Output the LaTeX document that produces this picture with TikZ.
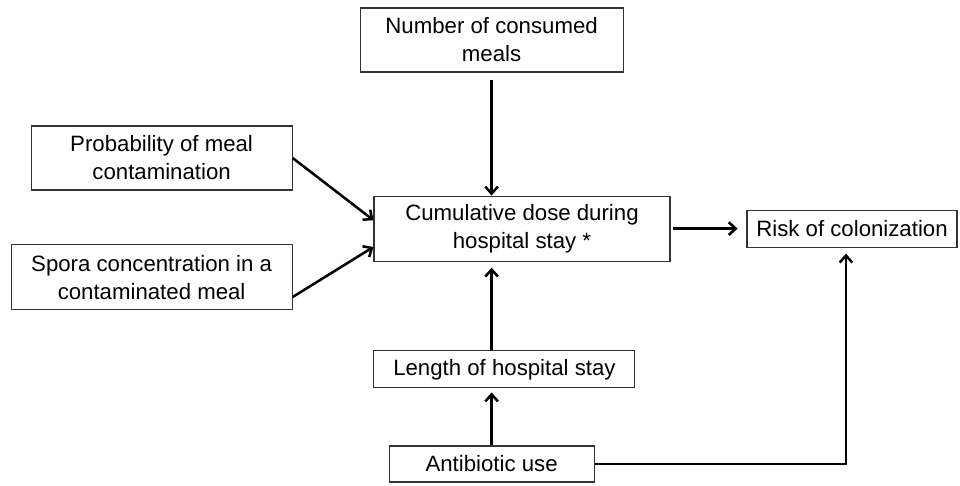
\documentclass[tikz,border=0pt]{standalone}
\usepackage{fontspec}
\setmainfont{Liberation Sans}
\usetikzlibrary{arrows.meta}

\tikzset{
  factor/.style={draw=black!80,line width=0.8pt,rectangle,align=center,inner sep=0pt,
    font=\fontsize{15.8}{20}\selectfont},
  link/.style={line width=1.8pt,-{Straight Barb[length=5pt,width=9pt,line width=1.8pt]}}
}

\begin{document}
\begin{tikzpicture}
  %\draw[step=1cm,gray,very thin] (0,0) grid (24,12);
  \useasboundingbox (0,0) rectangle (24,12.125);

  \node[factor,minimum width=6.575cm,minimum height=1.6cm] (meals) at (12.29,11.125) {Number of consumed\\meals};
  \node[factor,minimum width=6.525cm,minimum height=1.6cm] (prob) at (4.04,8.175) {Probability of meal\\contamination};
  \node[factor,minimum width=7.025cm,minimum height=1.625cm] (spora) at (3.79,5.19) {Spora concentration in a\\contaminated meal};
  \node[factor,minimum width=7.4cm,minimum height=1.625cm] (dose) at (13.05,6.41) {Cumulative dose during\\hospital stay *};
  \node[factor,minimum width=5.25cm,minimum height=0.925cm] (risk) at (21.3,6.41) {Risk of colonization};
  \node[factor,minimum width=6.525cm,minimum height=0.925cm] (stay) at (12.61,2.89) {Length of hospital stay};
  \node[factor,minimum width=5.125cm,minimum height=0.9cm] (abx) at (12.29,0.525) {Antibiotic use};

  \draw[link,shorten <=0.175cm] (meals.south) -- (meals.south |- dose.north);
  \draw[link] (prob.east) -- ([yshift=0.21cm]dose.west);
  \draw[link] ([yshift=-0.49cm]spora.east) -- ([yshift=-0.46cm]dose.west);
  \draw[link,shorten <=0.05cm,shorten >=0.22cm] (dose.east) -- (risk.west);
  \draw[link,shorten >=0.15cm] (abx.north |- stay.north) -- (abx.north |- dose.south);
  \draw[link,shorten >=0.1cm] (abx.north) -- (abx.north |- stay.south);
  \draw[link,shorten >=0.15cm] (abx.east) -| ([xshift=-0.15cm]risk.south);
\end{tikzpicture}
\end{document}
